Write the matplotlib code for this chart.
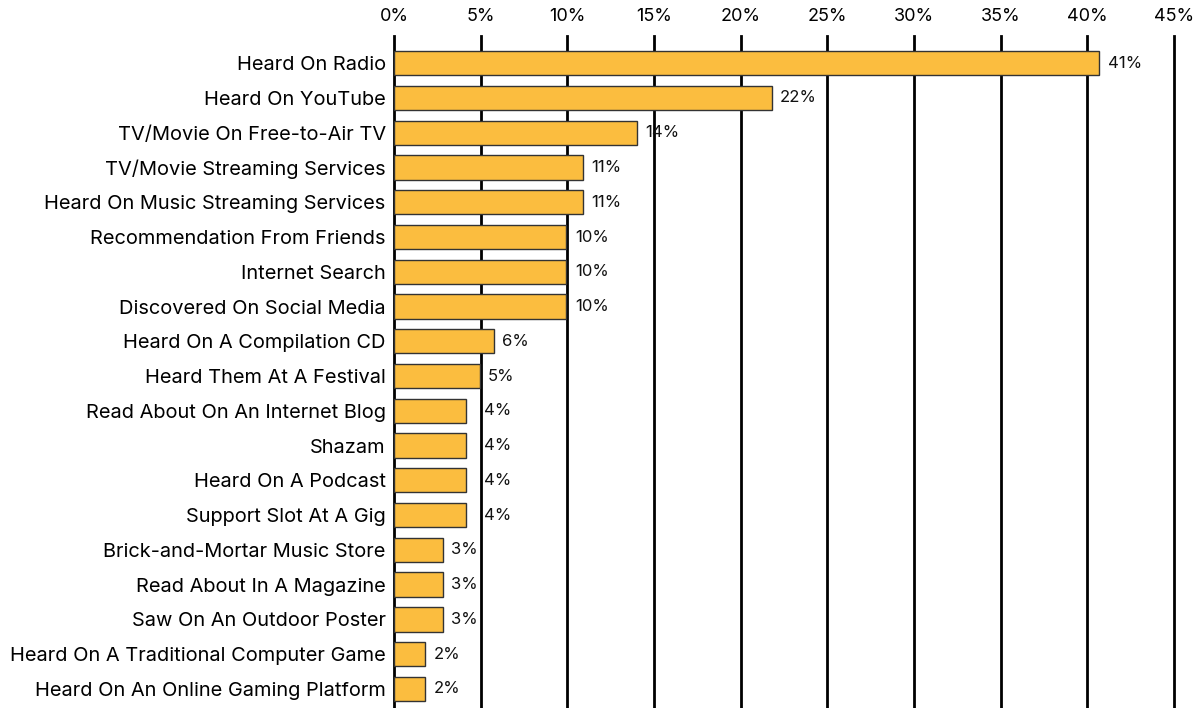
import matplotlib.pyplot as plt
from matplotlib.ticker import MultipleLocator, FuncFormatter

categories = [
    "Heard On Radio",
    "Heard On YouTube",
    "TV/Movie On Free-to-Air TV",
    "TV/Movie Streaming Services",
    "Heard On Music Streaming Services",
    "Recommendation From Friends",
    "Internet Search",
    "Discovered On Social Media",
    "Heard On A Compilation CD",
    "Heard Them At A Festival",
    "Read About On An Internet Blog",
    "Shazam",
    "Heard On A Podcast",
    "Support Slot At A Gig",
    "Brick-and-Mortar Music Store",
    "Read About In A Magazine",
    "Saw On An Outdoor Poster",
    "Heard On A Traditional Computer Game",
    "Heard On An Online Gaming Platform",
]
values = [40.7, 21.8, 14.0, 10.9, 10.9, 9.95, 9.95, 9.95, 5.75, 4.95,
          4.15, 4.15, 4.15, 4.15, 2.8, 2.8, 2.8, 1.8, 1.8]

plt.rcParams['font.family'] = ['Inter', 'DejaVu Sans']

fig = plt.figure(figsize=(11.95, 7.08), dpi=100)
ax = fig.add_axes([0.3297, 0.0, 0.9824 - 0.3297, 0.949])

y = range(len(categories))
ax.barh(y, values, height=0.7, color="#FBBD3F", edgecolor="#333333", linewidth=1, zorder=3)

for i, v in enumerate(values):
    lab = round(v)
    # les étiquettes 4% sont poussées après la ligne des 5%
    off = 13 if lab == 4 else 6
    ax.annotate("{}%".format(lab), (v, i), xytext=(off, 0), textcoords="offset points",
                va="center", ha="left", fontsize=12, color="#111111", zorder=5)

ax.set_xlim(0, 45)
ax.set_ylim(18.55, -0.78)
ax.xaxis.set_major_locator(MultipleLocator(5))
ax.xaxis.set_major_formatter(FuncFormatter(lambda x, p: "{:.0f}%".format(x)))
ax.xaxis.tick_top()
ax.grid(axis="x", color="black", linewidth=2, zorder=0)
for gl in ax.get_xgridlines():
    gl.set_clip_on(False)
ax.set_yticks(list(y))
ax.set_yticklabels(categories, fontsize=14.4)
ax.tick_params(axis="both", length=0)
ax.tick_params(axis="x", labelsize=13, pad=8)
ax.tick_params(axis="y", pad=6)
for s in ax.spines.values():
    s.set_visible(False)

fig.savefig("out.png", dpi=100)
